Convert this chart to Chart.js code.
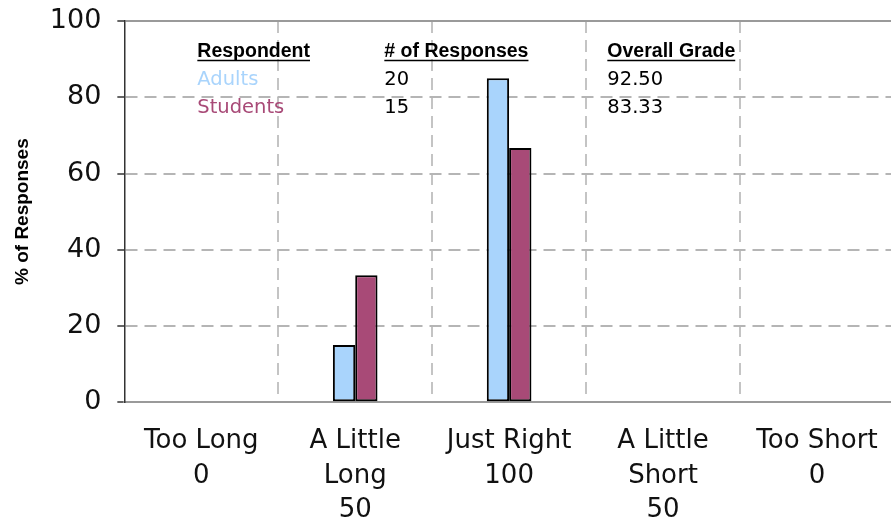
<!DOCTYPE html>
<html>
<head>
<meta charset="utf-8">
<script src="https://cdn.jsdelivr.net/npm/chart.js@4.4.1/dist/chart.umd.min.js"></script>
<style>
  html, body { margin: 0; padding: 0; background: #fff; overflow: hidden; }
  #wrap { width: 900px; height: 523px; }
</style>
</head>
<body>
<div id="wrap"><canvas id="myChart"></canvas></div>
<script>
"use strict";

// chart data
let categories = [['Too Long', '0'], ['A Little', 'Long', '50'], ['Just Right', '100'], ['A Little', 'Short', '50'], ['Too Short', '0']];
let adultValues = [0, 15, 85, 0, 0];
let studentValues = [0, 33.33, 66.67, 0, 0];
let yTicks = [0, 20, 40, 60, 80, 100];

// the little table inside the plot
let tableHeaders = ['Respondent', '# of Responses', 'Overall Grade'];
let respondents = ['Adults', 'Students'];
let responseCounts = [20, 15];
let overallGrades = ['92.50', '83.33'];

let seriesColors = ['#a9d4fc', '#a84a77'];

function isEdgeTick(ctx) {
  return ctx.tick && (ctx.tick.value === 0 || ctx.tick.value === 100);
}

let tablePlugin = {
  id: 'gradeTable',
  afterDraw(chart) {
    let ctx = chart.ctx;
    let area = chart.chartArea;
    let colX = [area.left + 73, area.left + 260, area.left + 483];
    let headY = area.top + 36;
    ctx.save();
    ctx.textAlign = 'left';
    ctx.textBaseline = 'alphabetic';
    ctx.font = 'bold 19.5px "Liberation Sans", Arial, sans-serif';
    ctx.fillStyle = '#000';
    ctx.strokeStyle = '#000';
    ctx.lineWidth = 1.5;
    for (let i = 0; i < tableHeaders.length; i++) {
      ctx.fillText(tableHeaders[i], colX[i], headY);
      let w = ctx.measureText(tableHeaders[i]).width;
      ctx.beginPath();
      ctx.moveTo(colX[i], headY + 3.5);
      ctx.lineTo(colX[i] + w, headY + 3.5);
      ctx.stroke();
    }
    ctx.font = '19.5px "DejaVu Sans", sans-serif';
    for (let r = 0; r < respondents.length; r++) {
      let y = headY + 28 * (r + 1);
      ctx.fillStyle = seriesColors[r];
      ctx.fillText(respondents[r], colX[0], y);
      ctx.fillStyle = '#000';
      ctx.fillText(String(responseCounts[r]), colX[1], y);
      ctx.fillText(overallGrades[r], colX[2], y);
    }
    ctx.restore();
  }
};

let chartObject = {
  type: 'bar',
  data: {
    labels: categories,
    datasets: [{
      label: respondents[0],
      data: adultValues,
      backgroundColor: seriesColors[0],
      borderColor: '#000',
      borderWidth: 2,
      borderSkipped: false
    },
    {
      label: respondents[1],
      data: studentValues,
      backgroundColor: seriesColors[1],
      borderColor: '#000',
      borderWidth: 2,
      borderSkipped: false
    }]
  },
  options: {
    responsive: true,
    maintainAspectRatio: false,
    animation: false,
    layout: { padding: { left: 10, right: 4, top: 21, bottom: -27 } },
    categoryPercentage: 0.29,
    barPercentage: 1.0,
    plugins: {
      legend: { display: false },
      tooltip: { enabled: false }
    },
    scales: {
      x: {
        grid: {
          offset: true,
          color: (ctx) => ctx.index === 0 ? 'rgba(0,0,0,0)' : '#c4c4c4',
          lineWidth: 2,
          drawTicks: false
        },
        border: { color: '#9a9a9a', width: 2, dash: [12, 7] },
        ticks: {
          font: { family: "'DejaVu Sans', sans-serif", size: 26, lineHeight: 1.33 },
          color: '#111',
          padding: 22,
          maxRotation: 0,
          autoSkip: false
        }
      },
      y: {
        min: 0,
        max: 100,
        afterBuildTicks: (scale) => { scale.ticks = yTicks.map(v => ({ value: v })); },
        ticks: {
          font: { family: "'DejaVu Sans', sans-serif", size: 27, lineHeight: 0.35 },
          color: '#111',
          padding: 16
        },
        grid: {
          color: (ctx) => isEdgeTick(ctx) ? '#9a9a9a' : '#b5b5b5',
          lineWidth: 2,
          tickColor: '#333',
          tickLength: 7,
          tickWidth: 1.5
        },
        border: {
          color: '#333',
          width: 1.5,
          dash: (ctx) => isEdgeTick(ctx) ? [] : [12, 7]
        },
        title: {
          display: true,
          text: '% of Responses',
          font: { family: "'Liberation Sans', Arial, sans-serif", weight: 'bold', size: 19 },
          color: '#000',
          padding: { top: 1, bottom: 0 }
        }
      }
    }
  },
  plugins: [tablePlugin]
};

let ctx = document.getElementById('myChart').getContext('2d');
let myChart = new Chart(ctx, chartObject);
</script>
</body>
</html>
